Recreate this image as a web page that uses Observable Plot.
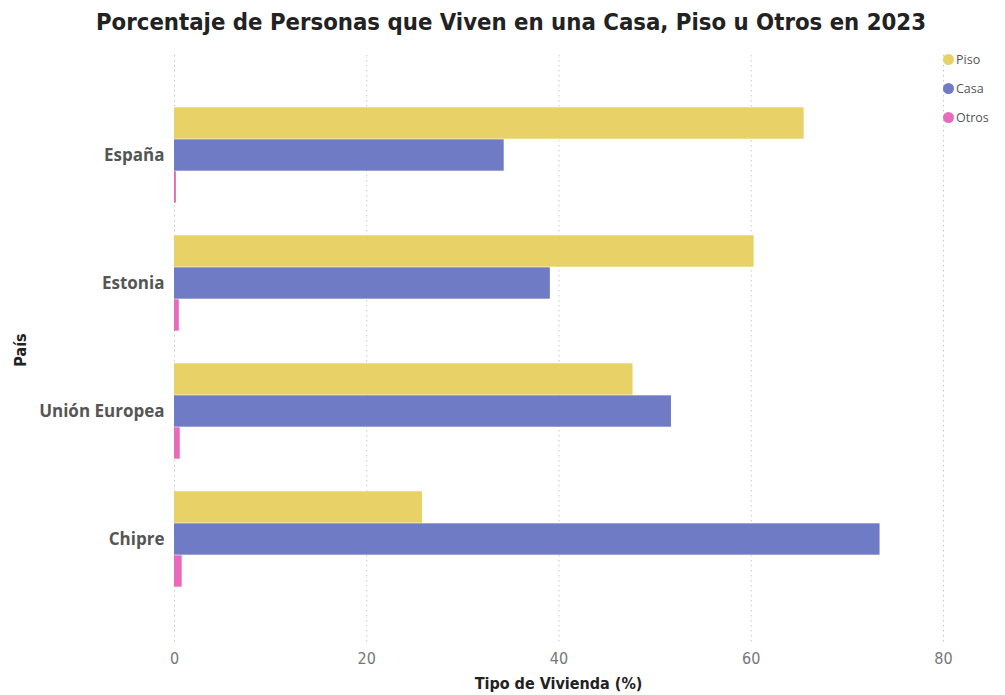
<!DOCTYPE html>
<html>
<head>
<meta charset="utf-8">
<script src="https://cdn.jsdelivr.net/npm/d3@7"></script>
<script src="https://cdn.jsdelivr.net/npm/@observablehq/plot@0.6"></script>
<style>
  html, body { margin: 0; padding: 0; background: #fff; }
  #wrap { position: relative; width: 1005px; height: 695px; overflow: hidden; }
  #title { position: absolute; left: 0; top: 8px; width: 1022px; text-align: center;
    font-family: "DejaVu Sans Condensed", "DejaVu Sans", sans-serif; font-stretch: condensed;
    font-weight: bold; font-size: 23.7px; color: #222; white-space: nowrap; }
  #chart { position: absolute; left: 0; top: 0; }
  #xlabel { position: absolute; left: 0; width: 1117px; top: 674px; text-align: center;
    font-family: "DejaVu Sans Condensed", "DejaVu Sans", sans-serif; font-stretch: condensed;
    font-weight: bold; font-size: 16px; color: #222; }
  #ylabel { position: absolute; left: 20px; top: 350px; transform: translate(-50%, -50%) rotate(-90deg);
    font-family: "DejaVu Sans Condensed", "DejaVu Sans", sans-serif; font-stretch: condensed;
    font-weight: bold; font-size: 16px; color: #222; white-space: nowrap; }
  #legend { position: absolute; left: 943px; top: 45px; font-family: "Open Sans", sans-serif; font-size: 12.5px; color: #555; }
  #legend .item { display: flex; align-items: center; height: 29px; }
  #legend .dot { width: 11px; height: 11px; border-radius: 50%; margin-right: 2px; }
  g[aria-label="y-axis tick label"] { fill: #555; }
  g[aria-label="x-axis tick label"] { fill: #777; }
</style>
</head>
<body>
<div id="wrap">
  <div id="chart"></div>
  <div id="title">Porcentaje de Personas que Viven en una Casa, Piso u Otros en 2023</div>
  <div id="legend"></div>
  <div id="xlabel">Tipo de Vivienda (%)</div>
  <div id="ylabel">País</div>
</div>
<script>
const paises = ["España", "Estonia", "Unión Europea", "Chipre"];
const tipos = ["Piso", "Casa", "Otros"];
const colores = ["#E8D166", "#707BC6", "#E86BBB"];
const piso = [65.5, 60.3, 47.7, 25.8];
const casa = [34.3, 39.1, 51.7, 73.4];
const otros = [0.2, 0.5, 0.6, 0.8];
const xTicks = [0, 20, 40, 60, 80];

const series = {Piso: piso, Casa: casa, Otros: otros};
const rows = [];
const yDomain = [];
paises.forEach((p, i) => {
  if (i > 0) yDomain.push("gap" + i);
  tipos.forEach(t => {
    const key = p + "|" + t;
    yDomain.push(key);
    rows.push({pais: p, tipo: t, key, valor: series[t][i]});
  });
});
const casaKeys = paises.map(p => p + "|Casa");

const chart = Plot.plot({
  width: 1005,
  height: 695,
  marginTop: 55,
  marginBottom: 50,
  marginLeft: 174,
  marginRight: 62,
  style: {background: "transparent", overflow: "visible"},
  x: {domain: [0, 80]},
  y: {domain: yDomain, range: [105.7, 588.4], padding: 0},
  color: {domain: tipos, range: colores},
  marks: [
    Plot.ruleX(xTicks, {x: d => d, stroke: "#c8c8c8", strokeDasharray: "1.5,3.5"}),
    Plot.barX(rows, {x: "valor", y: "key", fill: "tipo", insetTop: 0.3, insetBottom: 0.3}),
    Plot.axisX({ticks: xTicks, tickSize: 0, tickPadding: 7, label: null,
      fontSize: 16, fontFamily: "DejaVu Sans Condensed, DejaVu Sans, sans-serif"}),
    Plot.axisY({ticks: casaKeys, tickSize: 0, tickPadding: 10, label: null,
      tickFormat: k => k.split("|")[0], fontSize: 17, fontWeight: "bold",
      fontFamily: "Open Sans, sans-serif"})
  ]
});
document.getElementById("chart").appendChild(chart);

const legend = document.getElementById("legend");
tipos.forEach((t, i) => {
  const item = document.createElement("div");
  item.className = "item";
  const dot = document.createElement("span");
  dot.className = "dot";
  dot.style.background = colores[i];
  const lab = document.createElement("span");
  lab.textContent = t;
  item.appendChild(dot);
  item.appendChild(lab);
  legend.appendChild(item);
});
</script>
</body>
</html>
